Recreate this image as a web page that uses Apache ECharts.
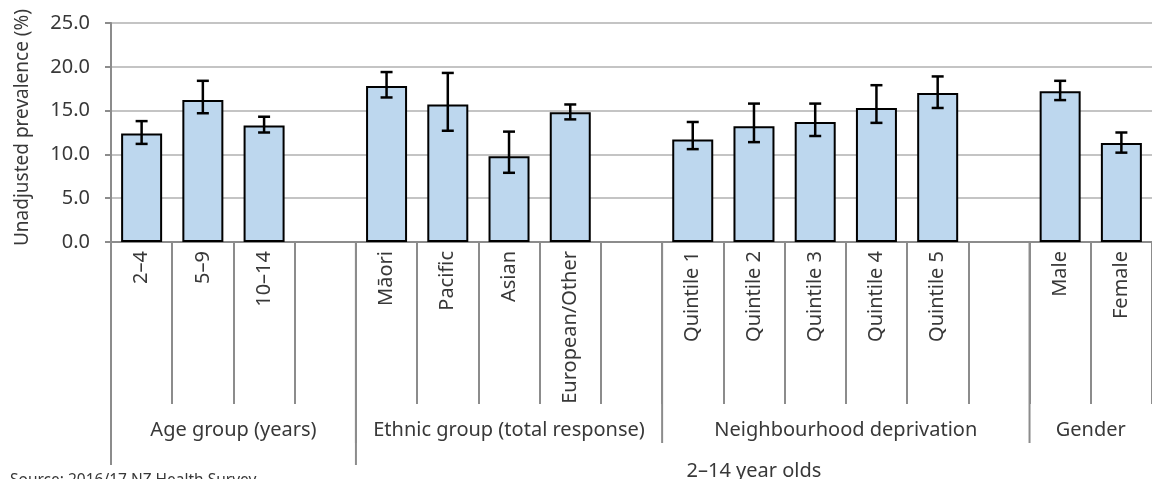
<!DOCTYPE html>
<html>
<head>
<meta charset="utf-8">
<script src="https://cdn.jsdelivr.net/npm/echarts@6/dist/echarts.min.js"></script>
<style>
  html, body { margin: 0; padding: 0; background: #fff; }
  #chart { width: 1152px; height: 479px; }
</style>
</head>
<body>
<div id="chart"></div>
<script>
// categories (blank slots are the gaps between groups)
const categories = ['2–4', '5–9', '10–14', '', 'Māori', 'Pacific', 'Asian', 'European/Other', '',
  'Quintile 1', 'Quintile 2', 'Quintile 3', 'Quintile 4', 'Quintile 5', '', 'Male', 'Female'];
const prevalence = [12.4, 16.2, 13.3, '-', 17.8, 15.7, 9.8, 14.8, '-', 11.7, 13.2, 13.7, 15.3, 17.0, '-', 17.2, 11.3];
const ciLow = [11.2, 14.7, 12.5, null, 16.5, 12.7, 7.9, 14.0, null, 10.6, 11.4, 12.1, 13.6, 15.3, null, 16.2, 10.2];
const ciHigh = [13.8, 18.4, 14.3, null, 19.4, 19.3, 12.6, 15.7, null, 13.7, 15.8, 15.8, 17.9, 18.9, null, 18.4, 12.5];

// second level of the category axis
const groupNames = ['Age group (years)', 'Ethnic group (total response)', 'Neighbourhood deprivation', 'Gender'];
const groupStart = [0, 4, 9, 15];
const groupEnd = [4, 9, 15, 17];
// third level
const outerNames = ['', '2–14 year olds'];
const outerStart = [0, 4];
const outerEnd = [4, 17];

const yTicks = [0, 5, 10, 15, 20, 25];

const FONT = 'Noto Sans';
const TXT = '#383838';
const AXIS = '#8c8c8c';

const chart = echarts.init(document.getElementById('chart'), null, { renderer: 'canvas' });

// one level of the multi-level axis: separator left of each span + centered label
const levelRenderer = (names, starts, ends, lineLen, labelDy) => (params, api) => {
  const i = params.dataIndex;
  const bw = api.size([1, 0])[0];
  const y0 = api.coord([0, 0])[1];
  const x0 = api.coord([starts[i], 0])[0] - bw / 2;
  const x1 = api.coord([ends[i] - 1, 0])[0] + bw / 2;
  return {
    type: 'group',
    children: [
      {
        type: 'line',
        shape: { x1: x0, y1: y0, x2: x0, y2: y0 + lineLen },
        style: { stroke: AXIS, lineWidth: 2 }
      },
      {
        type: 'text',
        style: {
          text: names[i],
          x: (x0 + x1) / 2,
          y: y0 + labelDy,
          align: 'center',
          verticalAlign: 'middle',
          fill: TXT,
          font: '20px "' + FONT + '"'
        }
      }
    ]
  };
};

chart.setOption({
  animation: false,
  textStyle: { fontFamily: FONT },
  title: {
    text: 'Source: 2016/17 NZ Health Survey',
    left: 10,
    top: 473,
    padding: 0,
    textStyle: { fontSize: 15.5, fontWeight: 'normal', color: TXT, fontFamily: FONT }
  },
  grid: { left: 111, right: 0, top: 23, bottom: 237, containLabel: false },
  xAxis: {
    type: 'category',
    data: categories,
    axisLine: { show: true, lineStyle: { color: AXIS, width: 2 } },
    axisTick: { show: true, interval: 0, length: 162, lineStyle: { color: AXIS, width: 2 } },
    axisLabel: { interval: 0, rotate: 90, margin: 9, fontSize: 20, color: TXT, fontFamily: FONT },
    splitLine: { show: false }
  },
  yAxis: {
    type: 'value',
    min: yTicks[0],
    max: yTicks[yTicks.length - 1],
    interval: 5,
    name: 'Unadjusted prevalence (%)',
    nameLocation: 'middle',
    nameGap: 79,
    nameTextStyle: { fontSize: 19, color: TXT, fontFamily: FONT, padding: [0, 0, 0, 10] },
    axisLine: { show: true, lineStyle: { color: AXIS, width: 2 } },
    axisTick: { show: true, length: 6, lineStyle: { color: AXIS, width: 2 } },
    axisLabel: { margin: 21, fontSize: 20, color: TXT, fontFamily: FONT, formatter: (v) => v.toFixed(1) },
    splitLine: { show: true, lineStyle: { color: '#c4c4c4', width: 2 } }
  },
  series: [
    {
      type: 'bar',
      data: prevalence,
      barWidth: 41,
      itemStyle: { color: '#bdd7ee', borderColor: '#000', borderWidth: 2 },
      z: 3
    },
    {
      type: 'custom',
      name: 'ci',
      clip: false,
      z: 4,
      data: categories.map((c, i) => [i, ciLow[i], ciHigh[i]]).filter((d) => d[1] != null),
      encode: { x: 0, y: [1, 2] },
      renderItem: (params, api) => {
        const lo = api.coord([api.value(0), api.value(1)]);
        const hi = api.coord([api.value(0), api.value(2)]);
        const cap = 6;
        const st = { stroke: '#000', lineWidth: 2.5 };
        return {
          type: 'group',
          children: [
            { type: 'line', shape: { x1: lo[0], y1: lo[1], x2: hi[0], y2: hi[1] }, style: st },
            { type: 'line', shape: { x1: lo[0] - cap, y1: lo[1], x2: lo[0] + cap, y2: lo[1] }, style: st },
            { type: 'line', shape: { x1: hi[0] - cap, y1: hi[1], x2: hi[0] + cap, y2: hi[1] }, style: st }
          ]
        };
      }
    },
    {
      type: 'custom',
      name: 'groups',
      clip: false,
      silent: true,
      z: 2,
      data: groupNames.map((n, i) => [groupStart[i], 0]),
      encode: { x: 0, y: 1 },
      renderItem: levelRenderer(groupNames, groupStart, groupEnd, 201, 188)
    },
    {
      type: 'custom',
      name: 'outer',
      clip: false,
      silent: true,
      z: 2,
      data: outerNames.map((n, i) => [outerStart[i], 0]),
      encode: { x: 0, y: 1 },
      renderItem: levelRenderer(outerNames, outerStart, outerEnd, 223, 229)
    }
  ]
});
</script>
</body>
</html>
